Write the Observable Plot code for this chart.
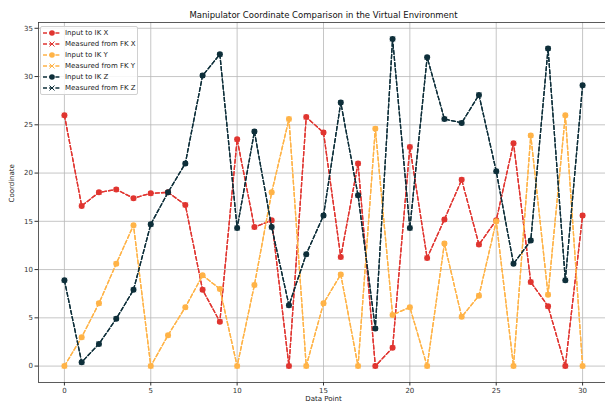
<!DOCTYPE html>
<html>
<head>
<meta charset="utf-8">
<script src="https://cdn.jsdelivr.net/npm/d3@7"></script>
<script src="https://cdn.jsdelivr.net/npm/@observablehq/plot@0.6"></script>
<style>
  html, body { margin: 0; padding: 0; background: #fff; }
  #wrap { position: relative; width: 605px; height: 405px; overflow: hidden; font-family: "DejaVu Sans", sans-serif; }
  #legend { position: absolute; left: 40px; top: 26px; width: 96px; padding: 1px 0; background: rgba(255,255,255,0.85);
            border: 1px solid #d0d0d0; border-radius: 2px; font-size: 7px; color: #222; }
  .item { display: flex; align-items: center; height: 10.9px; }
  .item svg { margin-left: 2px; margin-right: 4px; }
</style>
</head>
<body>
<div id="wrap"><div id="chart"></div><div id="legend"></div></div>
<script>
const points = d3.range(0, 31);
const inputX = [26.0, 16.6, 18.0, 18.3, 17.4, 17.9, 18.0, 16.7, 7.9, 4.6, 23.5, 14.4, 15.1, 0, 25.8, 24.2, 11.3, 21.0, 0, 1.9, 22.7, 11.2, 15.2, 19.3, 12.6, 15.1, 23.1, 8.7, 6.2, 0, 15.6];
const measuredX = [26.0, 16.6, 18.0, 18.3, 17.4, 17.9, 18.0, 16.7, 7.9, 4.6, 23.5, 14.4, 15.1, 0, 25.8, 24.2, 11.3, 21.0, 0, 1.9, 22.7, 11.2, 15.2, 19.3, 12.6, 15.1, 23.1, 8.7, 6.2, 0, 15.6];
const inputY = [0, 3.0, 6.5, 10.6, 14.6, 0, 3.2, 6.1, 9.4, 8.0, 0, 8.4, 18.0, 25.6, 0, 6.5, 9.5, 0, 24.6, 5.3, 6.1, 0, 12.7, 5.1, 7.3, 15.0, 0, 23.9, 7.4, 26.0, 0];
const measuredY = [0, 3.0, 6.5, 10.6, 14.6, 0, 3.2, 6.1, 9.4, 8.0, 0, 8.4, 18.0, 25.6, 0, 6.5, 9.5, 0, 24.6, 5.3, 6.1, 0, 12.7, 5.1, 7.3, 15.0, 0, 23.9, 7.4, 26.0, 0];
const inputZ = [8.9, 0.4, 2.3, 4.9, 7.9, 14.7, 18.0, 21.0, 30.1, 32.3, 14.3, 24.3, 14.4, 6.3, 11.6, 15.6, 27.3, 17.7, 3.9, 33.9, 14.3, 32.0, 25.6, 25.2, 28.1, 20.2, 10.6, 13.0, 32.9, 8.9, 29.1];
const measuredZ = [8.9, 0.4, 2.3, 4.9, 7.9, 14.7, 18.0, 21.0, 30.1, 32.3, 14.3, 24.3, 14.4, 6.3, 11.6, 15.6, 27.3, 17.7, 3.9, 33.9, 14.3, 32.0, 25.6, 25.2, 28.1, 20.2, 10.6, 13.0, 32.9, 8.9, 29.1];
const xTicks = [0, 5, 10, 15, 20, 25, 30];
const yTicks = [0, 5, 10, 15, 20, 25, 30, 35];

const series = [
  {name: "Input to IK X", values: inputX, color: "#e03530", marker: "circle"},
  {name: "Measured from FK X", values: measuredX, color: "#e03530", marker: "times"},
  {name: "Input to IK Y", values: inputY, color: "#ffb347", marker: "circle"},
  {name: "Measured from FK Y", values: measuredY, color: "#ffb347", marker: "times"},
  {name: "Input to IK Z", values: inputZ, color: "#0e2f3a", marker: "circle"},
  {name: "Measured from FK Z", values: measuredZ, color: "#0e2f3a", marker: "times"}
];

const marks = [
  Plot.gridX(xTicks, {stroke: "#b8b8b8", strokeOpacity: 1, strokeWidth: 0.8}),
  Plot.gridY(yTicks, {stroke: "#b8b8b8", strokeOpacity: 1, strokeWidth: 0.8}),
  Plot.axisX(xTicks, {tickSize: 3.5, fontSize: 7, fill: "#333", stroke: "#333", tickPadding: 2, label: null}),
  Plot.axisY(yTicks, {tickSize: 3.5, fontSize: 7, fill: "#333", stroke: "#333", tickPadding: 2, label: null}),
  Plot.frame({stroke: "#333", strokeWidth: 0.8})
];
for (const s of series) {
  const data = points.map((p, i) => ({x: p, y: s.values[i]}));
  marks.push(Plot.line(data, {x: "x", y: "y", stroke: s.color, strokeWidth: 1.3, strokeDasharray: "4,2.2"}));
  if (s.marker === "circle") {
    marks.push(Plot.dot(data, {x: "x", y: "y", r: 3, fill: s.color, stroke: "none"}));
  } else {
    marks.push(Plot.dot(data, {x: "x", y: "y", r: 2.2, symbol: "times", stroke: s.color, strokeWidth: 1}));
  }
}
marks.push(Plot.text(["Manipulator Coordinate Comparison in the Virtual Environment"], {frameAnchor: "top", dy: -11, fontSize: 8.5, fill: "#111"}));
marks.push(Plot.text(["Data Point"], {frameAnchor: "bottom", dy: 18, fontSize: 7, fill: "#222"}));
marks.push(Plot.text(["Coordinate"], {frameAnchor: "left", dx: -27, rotate: -90, fontSize: 7, fill: "#222"}));

const chart = Plot.plot({
  width: 605, height: 405,
  marginLeft: 38, marginRight: -3, marginTop: 22, marginBottom: 23,
  style: {fontFamily: "DejaVu Sans, sans-serif", background: "white", overflow: "visible"},
  x: {domain: [-1.5, 31.5], axis: null},
  y: {domain: [-1.7, 35.6], axis: null},
  marks
});
document.getElementById("chart").appendChild(chart);

const legend = document.getElementById("legend");
for (const s of series) {
  const item = document.createElement("div");
  item.className = "item";
  const mk = s.marker === "circle"
    ? `<circle cx="9" cy="4" r="2.8" fill="${s.color}"/>`
    : `<path d="M6.5,1.5L11.5,6.5M11.5,1.5L6.5,6.5" stroke="${s.color}" stroke-width="1"/>`;
  item.innerHTML = `<svg width="18" height="8"><line x1="0" x2="18" y1="4" y2="4" stroke="${s.color}" stroke-width="1.3" stroke-dasharray="4,2.2"/>${mk}</svg><span>${s.name}</span>`;
  legend.appendChild(item);
}
</script>
</body>
</html>
